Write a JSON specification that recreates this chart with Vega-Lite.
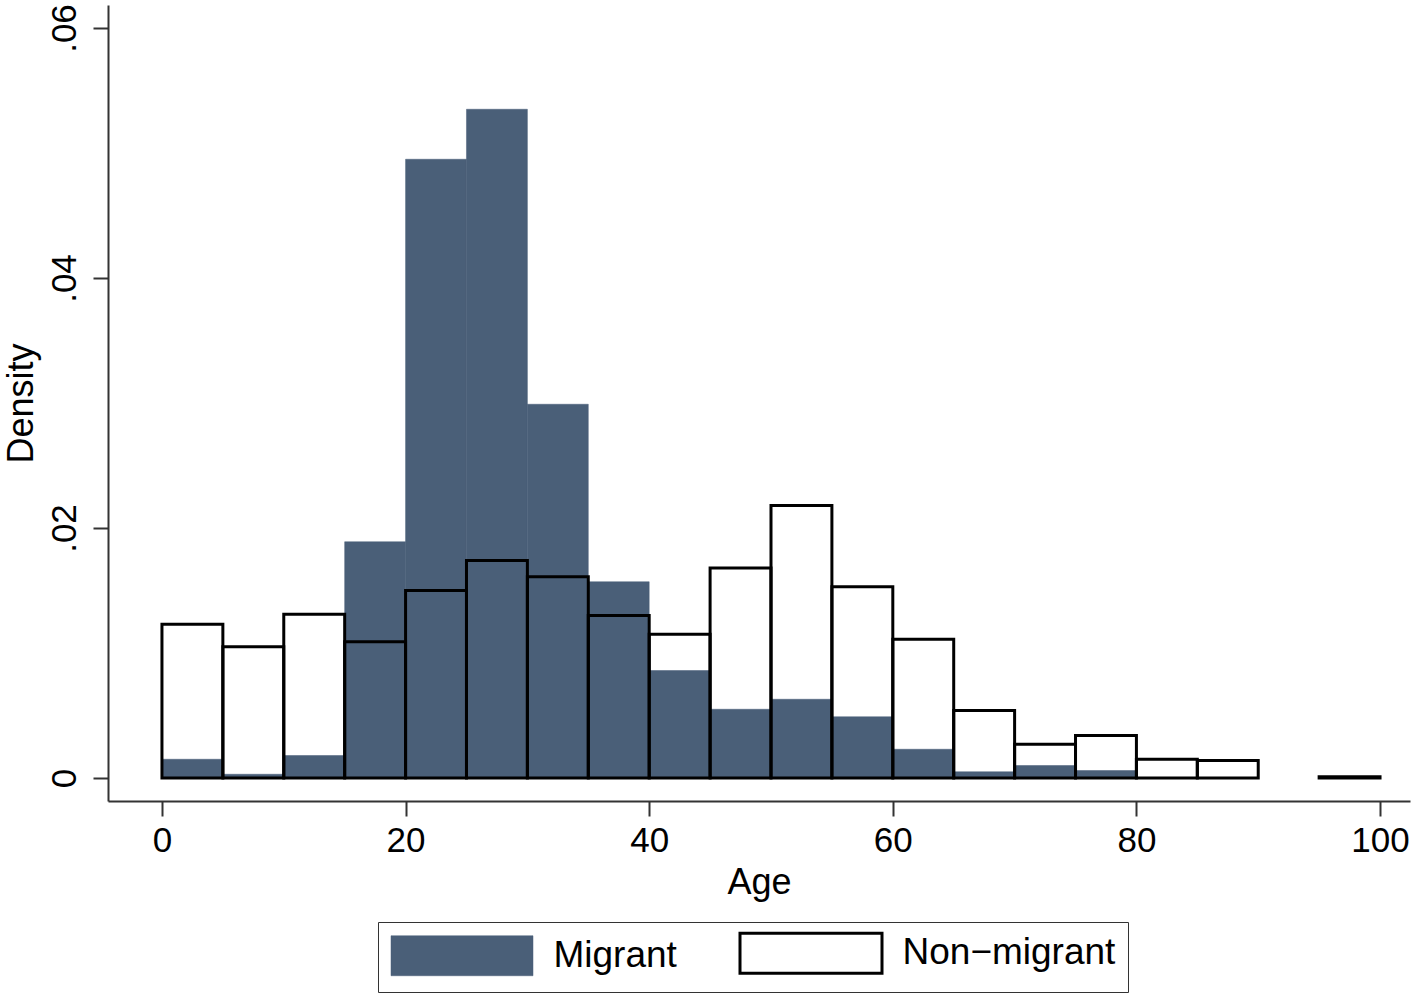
{
  "$schema": "https://vega.github.io/schema/vega-lite/v6.json",
  "width": 1302,
  "height": 796,
  "autosize": "none",
  "padding": {"left": 108, "top": 5, "right": 6, "bottom": 193},
  "background": "white",
  "config": {
    "view": {"stroke": null},
    "font": "Liberation Sans",
    "axis": {
      "grid": false,
      "domainColor": "#333333",
      "domainWidth": 2,
      "tickColor": "#333333",
      "tickWidth": 2,
      "tickSize": 15,
      "labelColor": "#000000",
      "titleColor": "#000000",
      "labelFontSize": 35,
      "titleFontSize": 36,
      "titleFontWeight": "normal",
      "labelFlush": false,
      "labelOverlap": false
    }
  },
  "data": {
    "values": [
      {"group": "Migrant", "start": 0, "end": 5, "density": 0.0015},
      {"group": "Migrant", "start": 5, "end": 10, "density": 0.0003},
      {"group": "Migrant", "start": 10, "end": 15, "density": 0.0018},
      {"group": "Migrant", "start": 15, "end": 20, "density": 0.0189},
      {"group": "Migrant", "start": 20, "end": 25, "density": 0.0495},
      {"group": "Migrant", "start": 25, "end": 30, "density": 0.0535},
      {"group": "Migrant", "start": 30, "end": 35, "density": 0.0299},
      {"group": "Migrant", "start": 35, "end": 40, "density": 0.0157},
      {"group": "Migrant", "start": 40, "end": 45, "density": 0.0086},
      {"group": "Migrant", "start": 45, "end": 50, "density": 0.0055},
      {"group": "Migrant", "start": 50, "end": 55, "density": 0.0063},
      {"group": "Migrant", "start": 55, "end": 60, "density": 0.0049},
      {"group": "Migrant", "start": 60, "end": 65, "density": 0.0023},
      {"group": "Migrant", "start": 65, "end": 70, "density": 0.0005},
      {"group": "Migrant", "start": 70, "end": 75, "density": 0.001},
      {"group": "Migrant", "start": 75, "end": 80, "density": 0.0006},
      {"group": "Non−migrant", "start": 0, "end": 5, "density": 0.0123},
      {"group": "Non−migrant", "start": 5, "end": 10, "density": 0.0105},
      {"group": "Non−migrant", "start": 10, "end": 15, "density": 0.0131},
      {"group": "Non−migrant", "start": 15, "end": 20, "density": 0.0109},
      {"group": "Non−migrant", "start": 20, "end": 25, "density": 0.015},
      {"group": "Non−migrant", "start": 25, "end": 30, "density": 0.0174},
      {"group": "Non−migrant", "start": 30, "end": 35, "density": 0.0161},
      {"group": "Non−migrant", "start": 35, "end": 40, "density": 0.013},
      {"group": "Non−migrant", "start": 40, "end": 45, "density": 0.0115},
      {"group": "Non−migrant", "start": 45, "end": 50, "density": 0.0168},
      {"group": "Non−migrant", "start": 50, "end": 55, "density": 0.0218},
      {"group": "Non−migrant", "start": 55, "end": 60, "density": 0.0153},
      {"group": "Non−migrant", "start": 60, "end": 65, "density": 0.0111},
      {"group": "Non−migrant", "start": 65, "end": 70, "density": 0.0054},
      {"group": "Non−migrant", "start": 70, "end": 75, "density": 0.0027},
      {"group": "Non−migrant", "start": 75, "end": 80, "density": 0.0034},
      {"group": "Non−migrant", "start": 80, "end": 85, "density": 0.0015},
      {"group": "Non−migrant", "start": 85, "end": 90, "density": 0.0014},
      {"group": "Non−migrant", "start": 95, "end": 100, "density": 0.0001}
    ]
  },
  "mark": {"type": "bar"},
  "encoding": {
    "x": {
      "field": "start",
      "type": "quantitative",
      "scale": {"domain": [-4.43, 102.46], "nice": false, "zero": false},
      "axis": {
        "values": [0, 20, 40, 60, 80, 100],
        "title": "Age",
        "labelPadding": 7,
        "titleX": 651,
        "titleY": 92,
        "titleBaseline": "alphabetic",
        "titleAlign": "center"
      }
    },
    "x2": {"field": "end"},
    "y": {
      "field": "density",
      "type": "quantitative",
      "scale": {"domain": [-0.00184, 0.06184], "nice": false, "zero": false},
      "axis": {
        "values": [0, 0.02, 0.04, 0.06],
        "labelExpr": "datum.value == 0 ? '0' : '.0' + round(datum.value * 100)",
        "labelAngle": -90,
        "labelAlign": "center",
        "labelBaseline": "alphabetic",
        "labelPadding": 18,
        "title": "Density",
        "titleAngle": -90,
        "titleX": -76,
        "titleY": 398,
        "titleAlign": "center",
        "titleBaseline": "alphabetic"
      }
    },
    "y2": {"datum": 0},
    "fill": {
      "field": "group",
      "type": "nominal",
      "scale": {"domain": ["Migrant", "Non−migrant"], "range": ["#4a5f78", "transparent"]},
      "legend": {
        "title": null,
        "orient": "none",
        "legendX": 270,
        "legendY": 917,
        "direction": "horizontal",
        "symbolType": "M-4.303,-1.212L4.303,-1.212L4.303,1.212L-4.303,1.212Z",
        "symbolSize": 1089,
        "symbolOffset": 53,
        "symbolStrokeWidth": 3,
        "labelFontSize": 37,
        "labelColor": "#000000",
        "labelOffset": 73,
        "labelLimit": 400,
        "columnPadding": 56,
        "padding": 12.5,
        "strokeColor": "#333333"
      }
    },
    "stroke": {
      "field": "group",
      "type": "nominal",
      "scale": {"domain": ["Migrant", "Non−migrant"], "range": ["#4a5f78", "#000000"]}
    },
    "strokeWidth": {
      "field": "group",
      "type": "ordinal",
      "scale": {"domain": ["Migrant", "Non−migrant"], "range": [0.5, 3]},
      "legend": null
    }
  }
}
